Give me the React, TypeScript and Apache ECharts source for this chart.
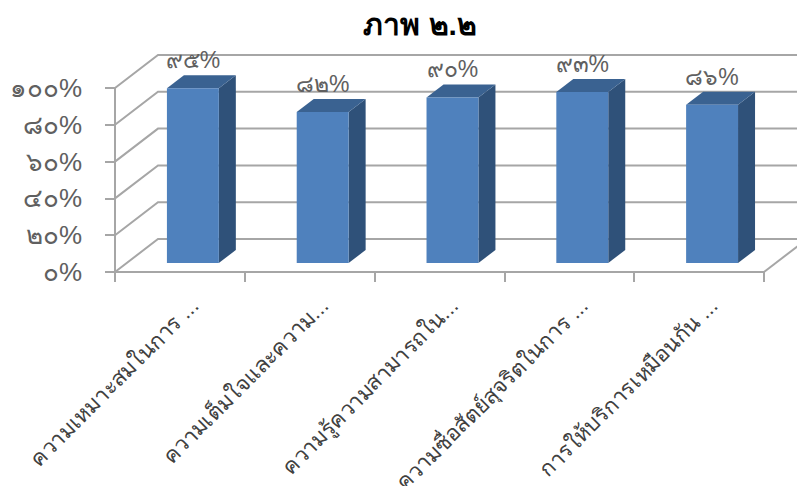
import React, { useEffect, useRef } from "react";
import * as echarts from "echarts";

const title = "ภาพ ๒.๒";
const categories = [
  "ความเหมาะสมในการ ...",
  "ความเต็มใจและความ...",
  "ความรู้ความสามารถใน...",
  "ความซื่อสัตย์สุจริตในการ ...",
  "การให้บริการเหมือนกัน ...",
];
const values = [95, 82, 90, 93, 86];
const valueLabels = ["๙๕%", "๘๒%", "๙๐%", "๙๓%", "๘๖%"];
const yTicks = [0, 20, 40, 60, 80, 100];
const yTickLabels: Record<number, string> = {
  0: "๐%",
  20: "๒๐%",
  40: "๔๐%",
  60: "๖๐%",
  80: "๘๐%",
  100: "๑๐๐%",
};

const FONT = "'Liberation Sans', 'Noto Sans', sans-serif";
const WALL = "#A6A6A6";
const FRONT = "#4F81BD";
const TOP = "#3A6291";
const SIDE = "#2F5179";
const TEXT = "#606060";

// Oblique projection: how far the back wall sits from the front plane.
const DEPTH_X = 43;
const DEPTH_Y = 33;

function renderWalls(params: any, api: any) {
  const v = api.value(0);
  const [, y] = api.coord([0, v]);
  const sys = params.coordSys;
  const x0 = sys.x;
  const x1 = sys.x + sys.width;
  const lineStyle = { stroke: WALL, lineWidth: 2, fill: "none" };
  const points = [
    [x0, y],
    [x0 + DEPTH_X, y - DEPTH_Y],
    [x1 + DEPTH_X, y - DEPTH_Y],
  ];
  const children: any[] = [{ type: "polyline", shape: { points }, style: lineStyle }];
  if (v === 0) {
    children.push({
      type: "line",
      shape: { x1, y1: y, x2: x1 + DEPTH_X, y2: y - DEPTH_Y },
      style: lineStyle,
    });
  }
  return { type: "group", children };
}

function renderBars(params: any, api: any) {
  const idx = api.value(0);
  const [cx, yTop] = api.coord([idx, api.value(1)]);
  const [, yBase] = api.coord([idx, 0]);
  const band = api.size([1, 0])[0];
  const w = band * 0.4;
  const left = cx + band * 0.1 - w / 2;
  const right = left + w;
  // The bar stands a little behind the front plane of the floor.
  const lift = 9;
  const top = yTop - lift;
  const bottom = yBase - lift;
  const dx = 17;
  const dy = 13;
  return {
    type: "group",
    children: [
      {
        type: "polygon",
        shape: { points: [[right, top], [right + dx, top - dy], [right + dx, bottom - dy], [right, bottom]] },
        style: { fill: SIDE },
      },
      {
        type: "polygon",
        shape: { points: [[left, top], [left + dx, top - dy], [right + dx, top - dy], [right, top]] },
        style: { fill: TOP },
      },
      { type: "rect", shape: { x: left, y: top, width: w, height: bottom - top }, style: { fill: FRONT } },
      {
        type: "text",
        x: (left + right) / 2,
        y: top - 28,
        style: {
          text: valueLabels[idx],
          fill: TEXT,
          font: `23px ${FONT}`,
          align: "center",
          verticalAlign: "middle",
        },
      },
    ],
  };
}

function renderCategoryLabels(params: any, api: any) {
  const idx = api.value(0);
  const [cx, y] = api.coord([idx, 0]);
  return {
    type: "text",
    x: cx + 7,
    y: y + 22,
    rotation: Math.PI / 4,
    style: {
      text: categories[idx],
      fill: "#404040",
      font: `22px ${FONT}`,
      align: "right",
      verticalAlign: "top",
    },
  };
}

export default function App() {
  const ref = useRef<HTMLDivElement>(null);

  useEffect(() => {
    document.body.style.margin = "0";
    const chart = echarts.init(ref.current!, undefined, { renderer: "svg" });
    chart.setOption({
      animation: false,
      backgroundColor: "#ffffff",
      title: {
        text: title,
        left: 415,
        top: 4,
        textAlign: "center",
        textStyle: { fontFamily: FONT, fontSize: 30, fontWeight: "bold", color: "#000000" },
      },
      grid: { left: 115, top: 88, width: 649, height: 184 },
      xAxis: {
        type: "category",
        data: categories,
        axisLine: { lineStyle: { color: WALL, width: 2 } },
        axisTick: { show: true, interval: 0, length: 10, lineStyle: { color: WALL, width: 2 } },
        axisLabel: { show: false },
        splitLine: { show: false },
      },
      yAxis: {
        type: "value",
        min: 0,
        max: 100,
        interval: 20,
        axisLine: { show: true, lineStyle: { color: WALL, width: 2 } },
        axisTick: { show: true, length: 10, lineStyle: { color: WALL, width: 2 } },
        splitLine: { show: false },
        axisLabel: {
          margin: 33,
          fontFamily: FONT,
          fontSize: 26,
          color: TEXT,
          padding: [15, 0, 0, 0],
          formatter: (v: number) => yTickLabels[v],
        },
      },
      series: [
        {
          type: "custom",
          z: 1,
          renderItem: renderWalls,
          data: yTicks.map((v) => [v]),
          encode: { y: 0 },
          silent: true,
        },
        {
          type: "custom",
          z: 3,
          renderItem: renderBars,
          data: values.map((v, i) => [i, v]),
          encode: { x: 0, y: 1 },
        },
        {
          type: "custom",
          z: 3,
          renderItem: renderCategoryLabels,
          data: categories.map((_, i) => [i, 0]),
          encode: { x: 0, y: 1 },
          silent: true,
        },
      ],
    });
    return () => chart.dispose();
  }, []);

  return <div ref={ref} style={{ width: 797, height: 486 }} />;
}
